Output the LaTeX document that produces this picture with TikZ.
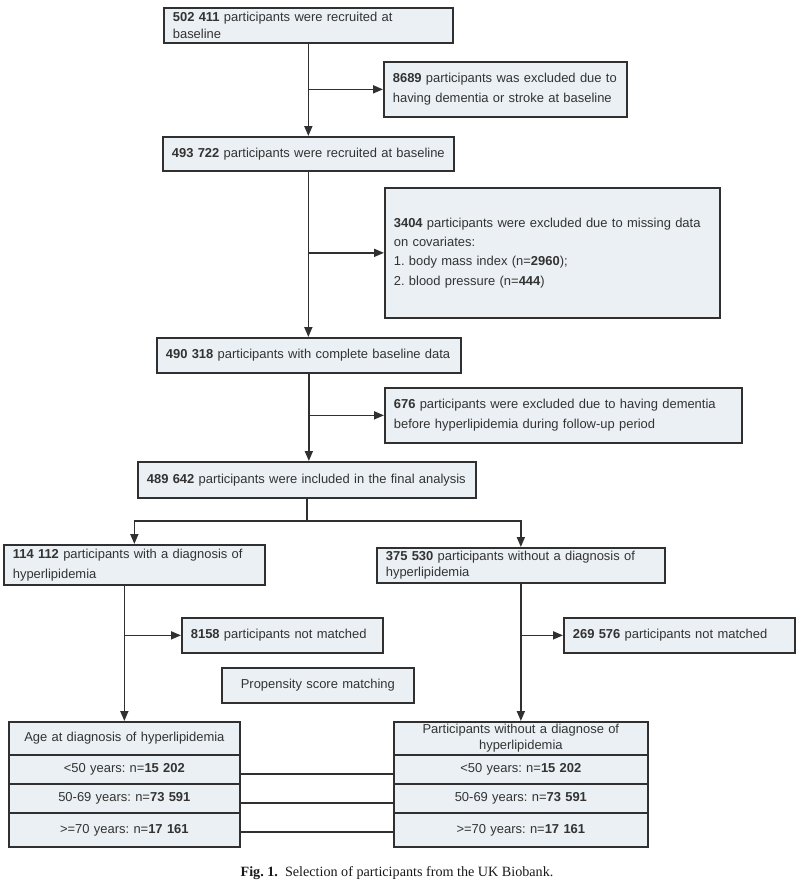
\documentclass[tikz,border=0pt]{standalone}
\usepackage{fontspec}
\setmainfont{Liberation Sans}
\newfontfamily\capfont{Liberation Serif}
\usetikzlibrary{arrows.meta,calc}
\definecolor{boxfill}{HTML}{EAF0F3}
\definecolor{ink}{HTML}{303030}
\definecolor{txt}{HTML}{333333}
\frenchspacing
\begin{document}
\frenchspacing
\begin{tikzpicture}[x=1bp,y=-1bp,
  box/.style={draw=ink, line width=1.7bp, fill=boxfill, anchor=north west,
    inner xsep=9bp, inner ysep=0pt, align=left, text=txt,
    font=\fontsize{13}{17}\selectfont},
  lead/.style={font=\fontsize{13}{#1}\selectfont},
  cbox/.style={box, align=center, inner xsep=0pt},
  arr/.style={draw=ink, line width=1.7bp, -{Triangle[length=10bp,width=8bp]}},
  ln/.style={draw=ink, line width=1.7bp}]
\useasboundingbox[fill=white] (0,0) rectangle (797,891);

% main column
\node[box, lead=17, text width=271bp, minimum height=35bp] (b1) at (163,7)
  {\textbf{502 411} participants were recruited at\\baseline};
\node[box, lead=20, text width=225bp, minimum height=55bp] (e1) at (383,61)
  {\textbf{8689} participants was excluded due to\\having dementia or stroke at baseline};
\node[box, text width=273bp, minimum height=34bp] (b2) at (162,136)
  {\textbf{493 722} participants were recruited at baseline};
\node[box, lead=19.5, text width=317bp, minimum height=130bp] (e2) at (384,187)
  {\textbf{3404} participants were excluded due to missing data\\on covariates:\\1. body mass index (n=\textbf{2960});\\2. blood pressure (n=\textbf{444})};
\node[box, text width=286bp, minimum height=35bp] (b3) at (156,337)
  {\textbf{490 318} participants with complete baseline data};
\node[box, lead=20, text width=339bp, minimum height=55bp] (e3) at (384,387)
  {\textbf{676} participants were excluded due to having dementia\\before hyperlipidemia during follow-up period};
\node[box, text width=320bp, minimum height=36bp] (b4) at (137,461)
  {\textbf{489 642} participants were included in the final analysis};

% two branches
\node[box, lead=20, text width=243bp, minimum height=40bp] (L) at (3,544)
  {\textbf{114 112} participants with a diagnosis of\\hyperlipidemia};
\node[box, lead=16, text width=270bp, minimum height=35bp] (R) at (376,547)
  {\textbf{375 530} participants without a diagnosis of\\hyperlipidemia};
\node[box, text width=183bp, minimum height=35bp] (e4) at (181,617)
  {\textbf{8158} participants not matched};
\node[box, text width=213bp, minimum height=35bp] (e5) at (563,617)
  {\textbf{269 576} participants not matched};
\node[cbox, text width=192bp, minimum height=35bp] (psm) at (221,667)
  {Propensity score matching};

% left table
\node[cbox, text width=231bp, minimum height=33bp] (lh) at (8,721)
  {Age at diagnosis of hyperlipidemia};
\node[cbox, text width=231bp, minimum height=29bp] (lr1) at (8,754)
  {<50 years: n=\textbf{15 202}};
\node[cbox, text width=231bp, minimum height=29bp] (lr2) at (8,783)
  {50-69 years: n=\textbf{73 591}};
\node[cbox, text width=231bp, minimum height=34bp] (lr3) at (8,812)
  {>=70 years: n=\textbf{17 161}};

% right table
\node[cbox, lead=16, text width=254bp, minimum height=33bp] (rh) at (393,721)
  {Participants without a diagnose of\\hyperlipidemia};
\node[cbox, text width=254bp, minimum height=29bp] (rr1) at (393,754)
  {<50 years: n=\textbf{15 202}};
\node[cbox, text width=254bp, minimum height=29bp] (rr2) at (393,783)
  {50-69 years: n=\textbf{73 591}};
\node[cbox, text width=254bp, minimum height=34bp] (rr3) at (393,812)
  {>=70 years: n=\textbf{17 161}};

% connectors, main column
\draw[arr] (b1.south) -- (b1.south |- b2.north);
\draw[arr] (b1.south |- e1.west) -- (e1.west);
\draw[arr] (b2.south) -- (b2.south |- b3.north);
\draw[arr] (b2.south |- e2.west) -- (e2.west);
\draw[arr] (b3.south) -- (b3.south |- b4.north);
\draw[arr] (b3.south |- e3.west) -- (e3.west);

% split
\coordinate (sp) at ($(b4.south)+(0,22)$);
\draw[ln] (b4.south) -- (sp);
\draw[arr] (sp) -| (L.north);
\draw[arr] (sp) -| (R.north);

% branches
\draw[arr] (lh.north |- L.south) -- (lh.north);
\draw[arr] (lh.north |- e4.west) -- (e4.west);
\draw[arr] (rh.north |- R.south) -- (rh.north);
\draw[arr] (rh.north |- e5.west) -- (e5.west);

% matched rows
\draw[ln] ($(lr1.east)+(0,4.5)$) -- ($(rr1.west)+(0,4.5)$);
\draw[ln] ($(lr2.east)+(0,4.5)$) -- ($(rr2.west)+(0,4.5)$);
\draw[ln] ($(lr3.east)+(0,2)$) -- ($(rr3.west)+(0,2)$);

% caption
\node[text=black!90, font=\capfont\fontsize{14.2}{16}\selectfont] (cap) at (397,873)
  {\textbf{Fig. 1.}\enspace Selection of participants from the UK Biobank.};
\end{tikzpicture}
\end{document}
